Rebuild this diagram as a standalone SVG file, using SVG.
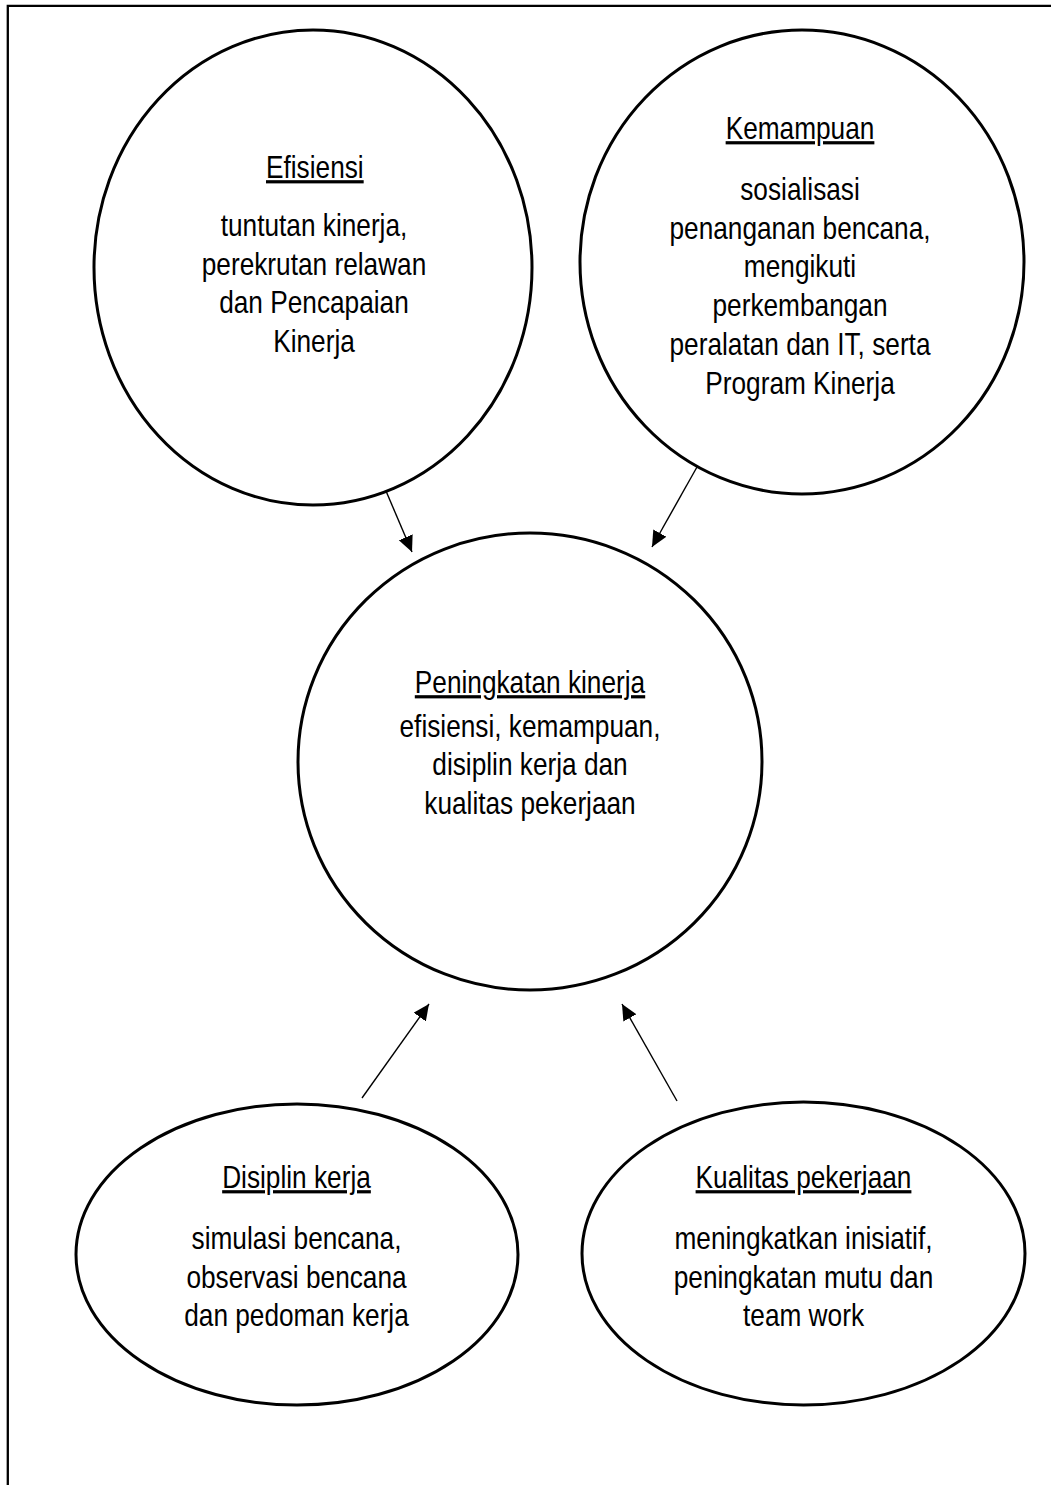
<svg xmlns="http://www.w3.org/2000/svg" width="1051" height="1485" viewBox="0 0 1051 1485">
<style>
.node{fill:none;stroke:#000;stroke-width:3}
.t{font-family:"Liberation Sans",Arial,sans-serif;font-size:32px;fill:#000;text-anchor:middle}
.h{text-decoration:underline}
.conn{stroke:#000;stroke-width:1.4;fill:none}
</style>
<defs>
<marker id="ah" markerUnits="userSpaceOnUse" markerWidth="17" markerHeight="16" refX="16" refY="7.5" orient="auto">
<path d="M0,0 L16,7.5 L0,15 z" fill="#000"/>
</marker>
</defs>
<rect width="1051" height="1485" fill="#fff"/>
<path d="M7.8,1485 V5.8 H1051" fill="none" stroke="#000" stroke-width="2.3"/>
<g id="efisiensi">
<ellipse class="node" cx="313" cy="267.5" rx="219" ry="237.5"/>
<g transform="translate(314 0) scale(0.82 1)">
<text class="t h" x="1" y="178">Efisiensi</text>
<text class="t" x="0" y="236.5">tuntutan kinerja,</text>
<text class="t" x="0" y="275">perekrutan relawan</text>
<text class="t" x="0" y="313.5">dan Pencapaian</text>
<text class="t" x="0" y="352">Kinerja</text>
</g>
</g>
<g id="kemampuan">
<ellipse class="node" cx="802" cy="262" rx="222" ry="232"/>
<g transform="translate(800 0) scale(0.82 1)">
<text class="t h" x="0" y="139">Kemampuan</text>
<text class="t" x="0" y="200">sosialisasi</text>
<text class="t" x="0" y="239">penanganan bencana,</text>
<text class="t" x="0" y="277.5">mengikuti</text>
<text class="t" x="0" y="316.5">perkembangan</text>
<text class="t" x="0" y="355.5">peralatan dan IT, serta</text>
<text class="t" x="0" y="394">Program Kinerja</text>
</g>
</g>
<g id="peningkatan">
<ellipse class="node" cx="530" cy="761.5" rx="232" ry="228.5"/>
<g transform="translate(530 0) scale(0.82 1)">
<text class="t h" x="0" y="693">Peningkatan kinerja</text>
<text class="t" x="0" y="737">efisiensi, kemampuan,</text>
<text class="t" x="0" y="775.5">disiplin kerja dan</text>
<text class="t" x="0" y="814">kualitas pekerjaan</text>
</g>
</g>
<g id="disiplin">
<ellipse class="node" cx="297" cy="1254.5" rx="221" ry="150.5"/>
<g transform="translate(296.5 0) scale(0.82 1)">
<text class="t h" x="0" y="1188">Disiplin kerja</text>
<text class="t" x="0" y="1249">simulasi bencana,</text>
<text class="t" x="0" y="1288">observasi bencana</text>
<text class="t" x="0" y="1326">dan pedoman kerja</text>
</g>
</g>
<g id="kualitas">
<ellipse class="node" cx="803.5" cy="1253.5" rx="221.5" ry="151.5"/>
<g transform="translate(803.5 0) scale(0.82 1)">
<text class="t h" x="0" y="1188">Kualitas pekerjaan</text>
<text class="t" x="0" y="1249">meningkatkan inisiatif,</text>
<text class="t" x="0" y="1288">peningkatan mutu dan</text>
<text class="t" x="0" y="1326">team work</text>
</g>
</g>
<g id="connectors">
<line class="conn" x1="386" y1="491" x2="412" y2="552" marker-end="url(#ah)"/>
<line class="conn" x1="697" y1="467" x2="652" y2="547" marker-end="url(#ah)"/>
<line class="conn" x1="362" y1="1098" x2="429" y2="1004" marker-end="url(#ah)"/>
<line class="conn" x1="677" y1="1101" x2="622" y2="1004" marker-end="url(#ah)"/>
</g>
</svg>
